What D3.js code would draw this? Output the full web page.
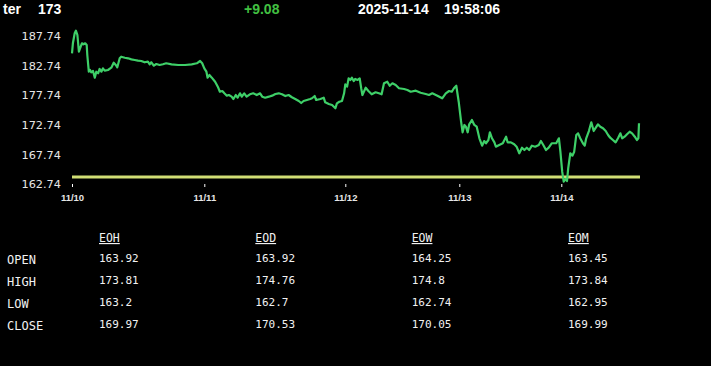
<!DOCTYPE html>
<html>
<head>
<meta charset="utf-8">
<script src="https://cdn.jsdelivr.net/npm/d3@7"></script>
<style>
  html, body { margin: 0; padding: 0; background: #000; }
  svg { display: block; }
</style>
</head>
<body>
<svg id="chart" width="711" height="366"></svg>
<script>
// ---- data ----
const headerTicker = "ter";
const headerLast = "173";
const headerChange = "+9.08";
const headerDate = "2025-11-14";
const headerTime = "19:58:06";

const baseline = 163.92; // previous close / open reference

const yTickValues = [162.74, 167.74, 172.74, 177.74, 182.74, 187.74];
const dayTickIndex = [0, 44.1, 91.1, 129.1, 163.1];
const dayTickLabels = ["11/10", "11/11", "11/12", "11/13", "11/14"];

// session index (trading-time position) of each sample
const times = [
  0.0,0.3,0.9,1.3,1.8,2.3,2.9,3.3,3.8,4.4,4.9,5.1,5.6,6.0,6.4,7.0,7.6,8.1,8.7,9.2,
  9.8,10.3,10.9,12.0,13.1,13.9,14.6,15.1,15.9,16.4,17.6,18.7,19.8,20.9,22.0,23.1,24.2,25.3,25.9,26.4,
  27.3,28.1,29.2,30.3,31.4,33.2,35.4,37.7,39.9,41.6,42.7,43.4,44.1,44.8,45.2,45.8,46.6,47.7,48.6,49.3,
  50.1,50.8,51.6,52.3,53.2,53.8,54.6,55.2,56.0,56.6,57.4,58.2,59.3,60.4,61.6,62.7,63.4,64.4,65.6,66.7,
  67.8,68.9,70.0,71.1,72.2,73.3,74.4,75.6,76.4,77.2,78.3,79.4,80.0,80.9,81.4,82.8,83.9,84.4,85.6,86.7,
  87.8,88.3,89.1,90.0,90.7,91.1,91.7,92.2,92.8,93.3,93.9,94.4,95.2,95.9,96.4,96.8,97.9,98.8,99.9,101.2,
  102.3,103.2,104.0,105.1,105.9,106.8,107.9,109.0,110.7,111.8,112.9,114.6,116.2,117.9,119.0,120.1,121.8,123.4,124.6,125.7,
  126.6,127.3,128.1,128.9,129.7,130.2,130.8,131.3,131.9,132.4,133.3,134.1,134.9,135.8,136.7,137.4,138.0,138.8,139.3,140.0,
  140.8,141.3,142.4,143.6,144.7,145.2,146.3,147.4,148.2,149.1,150.0,150.8,151.6,152.4,153.3,154.4,155.6,156.3,157.1,158.0,
  158.9,159.9,160.8,161.4,162.3,162.8,163.4,163.9,164.6,165.0,165.4,166.1,166.8,167.4,168.1,168.7,169.4,170.3,170.9,171.4,
  172.3,173.1,173.9,174.6,175.3,176.1,177.0,177.9,178.7,179.4,180.3,181.2,182.0,182.8,183.4,184.2,185.0,185.9,186.7,187.6,
  188.3,188.8,189.0
];

const prices = [
  184.82,186.51,188.20,188.64,187.91,185.09,185.93,186.51,186.34,186.51,186.22,184.53,181.71,182.00,181.61,181.83,180.70,181.71,181.44,182.17,
  181.71,182.28,181.88,182.00,182.39,183.23,182.84,182.45,183.97,184.24,184.07,183.97,183.80,183.69,183.57,183.52,183.30,183.40,182.96,183.30,
  182.72,183.01,182.84,182.96,183.13,182.96,182.84,182.84,182.96,183.13,183.52,183.13,182.28,181.71,180.70,181.15,180.70,180.02,179.18,178.33,
  178.45,178.06,177.66,177.77,177.49,177.10,177.77,177.32,178.06,177.49,178.06,177.49,177.89,178.06,177.77,178.06,177.49,177.32,177.49,177.66,
  177.94,178.06,177.89,177.60,177.77,177.39,177.10,176.76,176.42,176.76,176.93,177.10,177.22,177.60,176.93,177.10,177.32,176.54,176.25,176.08,
  175.53,176.37,176.64,176.76,178.06,179.58,179.18,180.59,180.31,180.70,180.14,180.48,180.31,180.59,178.91,177.77,179.01,178.45,177.89,178.23,
  178.06,177.89,179.75,180.02,179.34,179.75,179.46,178.91,178.79,178.62,178.33,178.50,178.16,177.94,177.77,178.06,177.66,177.22,178.06,178.45,
  178.33,178.91,179.34,176.64,173.26,171.47,172.71,172.42,171.47,172.82,173.55,172.71,172.42,170.46,169.21,170.00,169.62,170.17,171.47,170.46,
  169.78,169.04,169.33,169.62,170.73,169.78,169.78,169.45,169.04,167.93,168.87,168.48,168.87,168.48,169.21,169.04,169.33,170.00,169.33,168.48,
  168.87,169.62,169.62,169.62,170.46,168.20,164.82,163.13,163.58,163.25,165.39,167.93,167.52,168.20,171.02,171.30,170.46,169.62,169.21,170.46,
  171.69,173.16,171.69,172.25,172.82,172.42,172.15,171.69,171.02,170.56,170.17,169.78,170.46,171.30,170.46,170.73,171.14,171.57,171.30,170.73,
  170.17,170.46,173.00
];

const tableColumns = ["EOH", "EOD", "EOW", "EOM"];
const tableRows = ["OPEN", "HIGH", "LOW", "CLOSE"];
const eohValues = ["163.92", "173.81", "163.2", "169.97"];
const eodValues = ["163.92", "174.76", "162.7", "170.53"];
const eowValues = ["164.25", "174.8", "162.74", "170.05"];
const eomValues = ["163.45", "173.84", "162.95", "169.99"];
const tableValues = [eohValues, eodValues, eowValues, eomValues];

// ---- drawing ----
const svg = d3.select("#chart");
svg.append("rect").attr("width", 711).attr("height", 366).attr("fill", "#000");

// header
const hdr = svg.append("g")
  .attr("font-family", "'Liberation Sans', Arial, sans-serif")
  .attr("font-weight", "bold")
  .attr("font-size", 14);
hdr.append("text").attr("x", 3).attr("y", 14).attr("fill", "#fff").text(headerTicker);
hdr.append("text").attr("x", 38).attr("y", 14).attr("fill", "#fff").text(headerLast);
hdr.append("text").attr("x", 244).attr("y", 14).attr("fill", "#42c142").text(headerChange);
hdr.append("text").attr("x", 358).attr("y", 14).attr("fill", "#fff").text(headerDate);
hdr.append("text").attr("x", 444).attr("y", 14).attr("fill", "#fff").text(headerTime);

// scales
const x = d3.scaleLinear().domain([0, 189]).range([72, 639]);
const y = d3.scaleLinear().domain([162.74, 187.74]).range([184, 36]);

// y axis
const yAxis = svg.append("g")
  .attr("transform", "translate(63,0)")
  .call(d3.axisLeft(y).tickValues(yTickValues).tickSize(0).tickPadding(2).tickFormat(d => d.toFixed(2)));
yAxis.select(".domain").remove();
yAxis.selectAll("text")
  .attr("fill", "#e6e6e6")
  .attr("font-family", "'DejaVu Sans', Verdana, sans-serif")
  .attr("font-size", 11.3);

// x axis
const xAxis = svg.append("g")
  .attr("transform", "translate(0,184)")
  .call(d3.axisBottom(x).tickValues(dayTickIndex).tickSize(3).tickPadding(7)
    .tickFormat((d, i) => dayTickLabels[i]));
xAxis.select(".domain").remove();
xAxis.selectAll("line").attr("stroke", "#fff").attr("stroke-width", 1);
xAxis.selectAll("text")
  .attr("fill", "#e6e6e6")
  .attr("font-family", "'Liberation Sans', Arial, sans-serif")
  .attr("font-weight", "bold")
  .attr("font-size", 9.5);

// baseline (reference) line
svg.append("line")
  .attr("x1", x(0)).attr("x2", x(189) + 1)
  .attr("y1", y(baseline)).attr("y2", y(baseline))
  .attr("stroke", "#d0de74").attr("stroke-width", 3);

// price line
const data = times.map((t, i) => ({ t, p: prices[i] }));
svg.append("path")
  .datum(data)
  .attr("fill", "none")
  .attr("stroke", "#3ecf68")
  .attr("stroke-width", 2.2)
  .attr("stroke-linejoin", "round")
  .attr("d", d3.line().x(d => x(d.t)).y(d => y(d.p)));

// table
const colX = d3.scalePoint().domain(tableColumns).range([99, 568]);
const rowY = d3.scalePoint().domain(tableRows).range([262, 328]);

const tbl = svg.append("g").attr("font-family", "'DejaVu Sans Mono', 'Liberation Mono', monospace").attr("fill", "#f2f2f2");

tbl.selectAll("text.hdr").data(tableColumns).join("text")
  .attr("class", "hdr")
  .attr("x", d => colX(d)).attr("y", 242)
  .attr("font-size", 11.5)
  .attr("text-decoration", "underline")
  .text(d => d);

tbl.selectAll("text.row").data(tableRows).join("text")
  .attr("class", "row")
  .attr("x", 7).attr("y", d => rowY(d) + 2)
  .attr("font-size", 12)
  .text(d => d);

tableColumns.forEach((c, ci) => {
  tbl.selectAll("text.v" + ci).data(tableValues[ci]).join("text")
    .attr("class", "v" + ci)
    .attr("x", colX(c))
    .attr("y", (d, ri) => rowY(tableRows[ri]))
    .attr("font-size", 11)
    .text(d => d);
});
</script>
</body>
</html>
